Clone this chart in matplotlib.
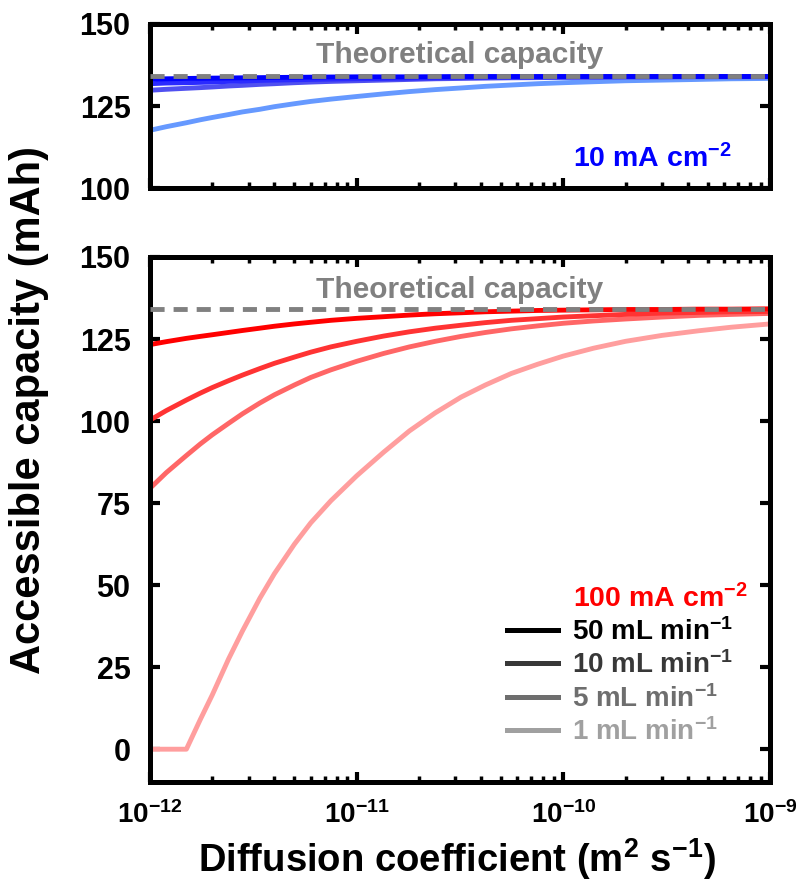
import matplotlib
matplotlib.use("Agg")
import matplotlib.pyplot as plt
from matplotlib.lines import Line2D
from matplotlib.ticker import LogLocator, NullFormatter, FixedLocator

plt.rcParams['font.family'] = ['Liberation Sans', 'DejaVu Sans']
plt.rcParams['font.weight'] = 'bold'
plt.rcParams['mathtext.fontset'] = 'custom'
plt.rcParams['mathtext.rm'] = 'Liberation Sans:bold'
plt.rcParams['mathtext.bf'] = 'Liberation Sans:bold'
plt.rcParams['mathtext.default'] = 'bf'

# diffusion coefficient (m2/s)
diffusion = [1.0e-12, 1.2e-12, 1.5e-12, 1.75e-12, 2.0e-12, 2.4e-12, 2.8e-12,
             3.4e-12, 4.0e-12, 5.0e-12, 6.0e-12, 7.5e-12, 1.0e-11, 1.35e-11,
             1.8e-11, 2.4e-11, 3.2e-11, 4.2e-11, 5.6e-11, 7.5e-11, 1.0e-10,
             1.4e-10, 2.0e-10, 3.0e-10, 4.5e-10, 6.5e-10, 1.0e-9]

flow_labels = ['50 mL min$^{-1}$', '10 mL min$^{-1}$', '5 mL min$^{-1}$', '1 mL min$^{-1}$']

# accessible capacity (mAh) at 10 mA/cm2, one row per flow rate
cap_10_50 = [133.2, 133.3, 133.4, 133.45, 133.5, 133.55, 133.6, 133.65, 133.7, 133.75,
             133.8, 133.85, 133.9, 133.9, 133.9, 133.95, 134.0, 134.0, 134.0, 134.0,
             134.0, 134.0, 134.0, 134.0, 134.0, 134.0, 134.0]
cap_10_10 = [131.8, 132.0, 132.1, 132.2, 132.3, 132.5, 132.6, 132.8, 132.9, 133.0,
             133.1, 133.2, 133.3, 133.4, 133.5, 133.6, 133.7, 133.75, 133.8, 133.85,
             133.9, 133.9, 133.95, 133.95, 134.0, 134.0, 134.0]
cap_10_5 = [129.8, 130.1, 130.4, 130.6, 130.8, 131.1, 131.3, 131.6, 131.8, 132.1,
            132.3, 132.5, 132.7, 132.9, 133.1, 133.3, 133.4, 133.5, 133.6, 133.65,
            133.7, 133.75, 133.8, 133.85, 133.9, 133.9, 133.9]
cap_10_1 = [117.6, 118.7, 119.9, 120.8, 121.5, 122.4, 123.2, 124.0, 124.8, 125.7,
            126.4, 127.1, 127.9, 128.7, 129.4, 130.0, 130.5, 131.0, 131.4, 131.8,
            132.1, 132.4, 132.7, 132.9, 133.1, 133.3, 133.4]

# accessible capacity (mAh) at 100 mA/cm2
cap_100_50 = [123.3, 124.2, 125.2, 125.8, 126.3, 127.0, 127.6, 128.3, 128.9, 129.6,
              130.1, 130.7, 131.3, 131.8, 132.3, 132.7, 133.0, 133.3, 133.5, 133.7,
              133.8, 133.9, 134.0, 134.0, 134.1, 134.1, 134.2]
cap_100_10 = [100.3, 103.2, 106.4, 108.5, 110.2, 112.3, 114.0, 116.0, 117.6, 119.5,
              121.0, 122.6, 124.3, 125.9, 127.2, 128.3, 129.2, 130.0, 130.7, 131.2,
              131.7, 132.1, 132.5, 132.9, 133.1, 133.3, 133.4]
cap_100_5 = [79.5, 84.3, 89.5, 93.0, 95.8, 99.3, 102.2, 105.5, 108.0, 111.0,
             113.3, 115.6, 118.2, 120.6, 122.6, 124.3, 125.8, 127.0, 128.1, 129.0,
             129.8, 130.5, 131.1, 131.7, 132.2, 132.5, 132.8]
cap_100_1 = [0.0, 0.0, 0.0, 9.0, 16.5, 27.5, 36.0, 46.0, 53.5, 62.5,
             69.0, 75.7, 83.3, 90.5, 97.0, 102.5, 107.3, 111.0, 114.5, 117.3,
             119.8, 122.2, 124.3, 126.1, 127.5, 128.6, 129.6]

theoretical = 134

cap_10 = [cap_10_50, cap_10_10, cap_10_5, cap_10_1]
cap_100 = [cap_100_50, cap_100_10, cap_100_5, cap_100_1]

blues = ['#0000ff', '#2a2aff', '#5050f0', '#6699ff']
reds = ['#ff0000', '#ff3333', '#ff6666', '#ff9e9e']
grays = ['#000000', '#383838', '#6e6e6e', '#a0a0a0']

fig = plt.figure(figsize=(8, 8.92), dpi=100)
ax_top = fig.add_axes([0.1875, 0.7892, 0.775, 0.1839])
ax_bot = fig.add_axes([0.1875, 0.1233, 0.775, 0.5886])

fs = 20.5


def style_axes(ax, yticks, ylim):
    ax.set_xscale('log')
    ax.set_xlim(1e-12, 1e-9)
    ax.set_ylim(*ylim)
    ax.yaxis.set_major_locator(FixedLocator(yticks))
    ax.xaxis.set_major_locator(LogLocator(base=10, numticks=10))
    ax.xaxis.set_minor_locator(LogLocator(base=10, subs=range(2, 10), numticks=10))
    ax.xaxis.set_minor_formatter(NullFormatter())
    for s in ax.spines.values():
        s.set_linewidth(3.6)
    ax.tick_params(which='major', direction='in', length=7, width=3,
                   top=True, right=True)
    ax.tick_params(which='minor', direction='in', length=4.5, width=2.5,
                   top=True, right=True)
    ax.tick_params(axis='x', labelsize=20, pad=14)
    ax.tick_params(axis='y', labelsize=22, pad=14)
    for lab in ax.get_xticklabels() + ax.get_yticklabels():
        lab.set_fontweight('bold')


style_axes(ax_top, [100, 125, 150], (100, 150))
style_axes(ax_bot, [0, 25, 50, 75, 100, 125, 150], (-10, 150))
ax_top.tick_params(axis='x', labelbottom=False)

for vals, c in zip(cap_10[::-1], blues[::-1]):
    ax_top.plot(diffusion, vals, color=c, lw=3.5, solid_capstyle='butt')
for vals, c in zip(cap_100[::-1], reds[::-1]):
    ax_bot.plot(diffusion, vals, color=c, lw=3.5, solid_capstyle='butt')

for ax, yb in ((ax_top, 0.762), (ax_bot, 0.922)):
    ax.axhline(theoretical, color='#808080', lw=3.5, dashes=(2.9, 1.85), zorder=5)
    ax.text(0.5, yb, 'Theoretical capacity', transform=ax.transAxes, ha='center',
            va='baseline', color='#808080', fontsize=21.5, fontweight='bold')

ax_top.text(0.682, 0.128, '10 mA cm$^{-2}$', transform=ax_top.transAxes,
            ha='left', va='baseline', color='#0000ff', fontsize=fs, fontweight='bold')
ax_bot.text(0.682, 0.333, '100 mA cm$^{-2}$', transform=ax_bot.transAxes,
            ha='left', va='baseline', color='#ff0000', fontsize=fs, fontweight='bold')

handles = [Line2D([], [], color=g, lw=3.6) for g in grays]
leg = ax_bot.legend(handles, flow_labels, loc='upper left',
                    bbox_to_anchor=((506.7 - 150) / 620, (782 - 618) / 525),
                    frameon=False, fontsize=20, handlelength=1.85,
                    handletextpad=0.5, labelspacing=0.2, borderpad=0, borderaxespad=0)
for txt, g in zip(leg.get_texts(), grays):
    txt.set_color(g)
    txt.set_fontweight('bold')

fig.text(0.036, 0.54, 'Accessible capacity (mAh)', rotation=90, ha='center',
         va='center', fontsize=30, fontweight='bold')
fig.text(0.571, 0.037, 'Diffusion coefficient (m$^{2}$ s$^{-1}$)', ha='center',
         va='center', fontsize=27.5, fontweight='bold')

fig.savefig('out.png', dpi=100)
